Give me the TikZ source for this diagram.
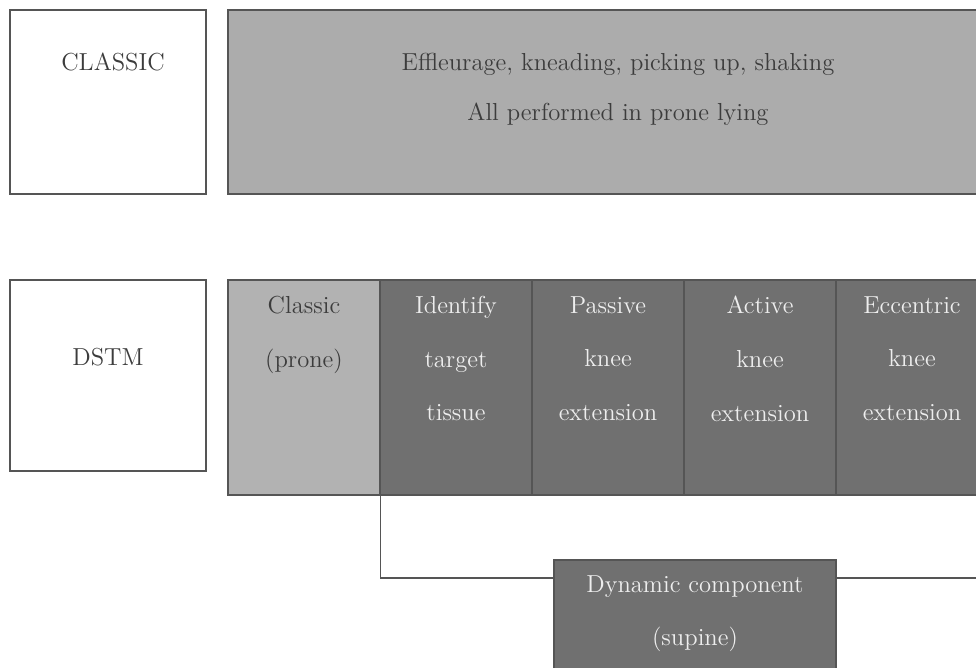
\documentclass[tikz,border=0pt]{standalone}
\usetikzlibrary{positioning}

\begin{document}
\begin{tikzpicture}[x=0.02cm, y=-0.02cm]

    \definecolor{myframe}{RGB}{85, 85, 85}
    \definecolor{mylightgrey}{RGB}{172, 172, 172}
    \definecolor{mycellgrey}{RGB}{178, 178, 178}
    \definecolor{mydarkgrey}{RGB}{112, 112, 112}
    \definecolor{myink}{RGB}{60, 60, 60}
    \definecolor{mywhiteink}{RGB}{238, 238, 238}
    \tikzset{
        box/.style={draw=myframe, line width=0.8pt, rectangle, inner sep=0pt},
        label/.style={inner sep=0pt, anchor=north, align=center, font=\fontsize{14}{30.5}\selectfont},
    }

    \useasboundingbox (0,0) rectangle (976,667);
    \clip (0,0) rectangle (976,667);

    % classic row
    \node (classic) [box, fill=white, minimum width=3.92cm, minimum height=3.68cm] at (108,102) {};
    \node at (113,53) [label, text=myink] {CLASSIC};
    \node (strokes) [box, fill=mylightgrey, minimum width=15.6cm, minimum height=3.68cm] at (618,102) {};
    \node at (618,53) [label, text=myink, font=\fontsize{14}{28.5}\selectfont] {Effleurage, kneading, picking up, shaking\\All performed in prone lying};

    % dstm row
    \node (dstm) [box, fill=white, minimum width=3.92cm, minimum height=3.82cm] at (108,375.5) {};
    \node at (108,348) [label, text=myink] {DSTM};
    \node (prone) [box, fill=mycellgrey, minimum width=3.04cm, minimum height=4.3cm] at (304,387.5) {};
    \node (identify) [box, fill=mydarkgrey, minimum width=3.04cm, minimum height=4.3cm] at (456,387.5) {};
    \node (passive) [box, fill=mydarkgrey, minimum width=3.04cm, minimum height=4.3cm] at (608,387.5) {};
    \node (active) [box, fill=mydarkgrey, minimum width=3.04cm, minimum height=4.3cm] at (760,387.5) {};
    \node (eccentric) [box, fill=mydarkgrey, minimum width=3.04cm, minimum height=4.3cm] at (912,387.5) {};
    \node at (304,296) [label, text=myink] {Classic\\(prone)};
    \node at (456,296) [label, text=mywhiteink] {Identify\\target\\tissue};
    \node at (608,296) [label, text=mywhiteink] {Passive\\knee\\extension};
    \node at (760,296) [label, text=mywhiteink] {Active\\knee\\extension};
    \node at (912,296) [label, text=mywhiteink] {Eccentric\\knee\\extension};

    % dynamic part
    \node (dynamic) [box, fill=mydarkgrey, minimum width=5.64cm, minimum height=2.6cm] at (695,625) {};
    \node at (695,575) [label, text=mywhiteink] {Dynamic component\\(supine)};
    \coordinate (joinlevel) at (0,578);
    \coordinate (offright) at (1000,578);
    \draw [myframe, line width=0.8pt] (prone.south east) |- (dynamic.west |- joinlevel);
    \draw [myframe, line width=0.8pt] (dynamic.east |- joinlevel) -- (offright);

\end{tikzpicture}
\end{document}
